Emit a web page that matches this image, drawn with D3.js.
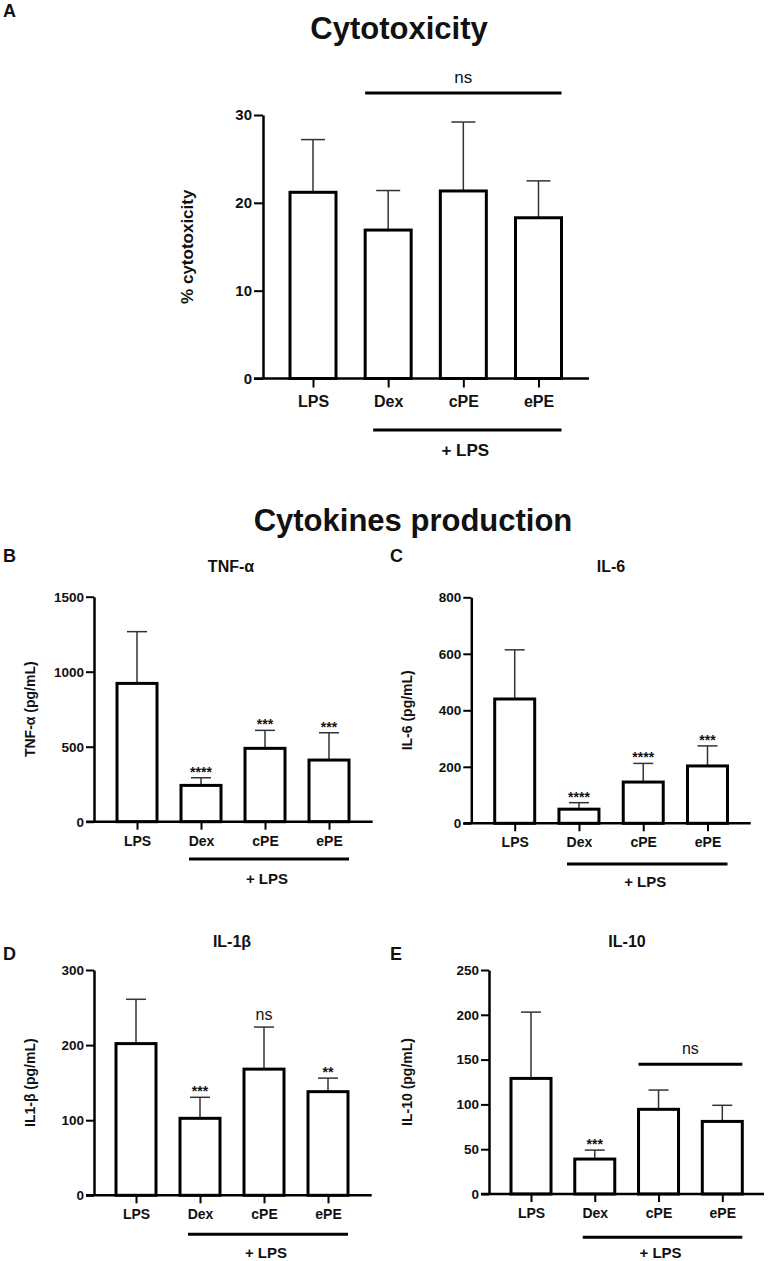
<!DOCTYPE html>
<html>
<head>
<meta charset="utf-8">
<script src="https://cdn.jsdelivr.net/npm/d3@7"></script>
<style>
  html, body { margin: 0; padding: 0; background: #fff; }
  svg { display: block; font-family: "Liberation Sans", Arial, sans-serif; }
</style>
</head>
<body>
<svg id="fig" width="768" height="1261"></svg>
<script>
// groups, same for every panel
const categories = ["LPS", "Dex", "cPE", "ePE"];

// A: cytotoxicity (%), mean and SD
const cytoMean = [21.2, 16.9, 21.35, 18.3];
const cytoSd = [6.0, 4.5, 7.85, 4.2];
const cytoTicks = [0, 10, 20, 30];

// B: TNF-a (pg/mL)
const tnfMean = [922, 242, 489, 411];
const tnfSd = [345, 51, 120, 182];
const tnfSig = ["", "****", "***", "***"];
const tnfTicks = [0, 500, 1000, 1500];

// C: IL-6 (pg/mL)
const il6Mean = [440, 50, 146, 203];
const il6Sd = [174, 23, 66, 71];
const il6Sig = ["", "****", "****", "***"];
const il6Ticks = [0, 200, 400, 600, 800];

// D: IL-1b (pg/mL)
const il1Mean = [202, 102.5, 168, 138];
const il1Sd = [59, 28, 56, 18];
const il1Sig = ["", "***", "ns", "**"];
const il1Ticks = [0, 100, 200, 300];

// E: IL-10 (pg/mL)
const il10Mean = [129, 39, 94.5, 81];
const il10Sd = [74, 10, 21.5, 18];
const il10Sig = ["", "***", "", ""];
const il10Ticks = [0, 50, 100, 150, 200, 250];

const svg = d3.select("#fig");
const FONT = "'Liberation Sans', Arial, sans-serif";

function drawPanel(p) {
  const g = svg.append("g");
  const yMax = p.ticks[p.ticks.length - 1];
  const y = d3.scaleLinear().domain([0, yMax]).range([p.y0, p.yTop]);
  const x = d3.scalePoint().domain(categories).range([p.xFirst, p.xLast]);
  const rows = categories.map((c, i) => ({
    cat: c, mean: p.means[i], sd: p.sd[i], sig: p.sig ? p.sig[i] : ""
  }));

  // error bars (upper only)
  const eb = g.selectAll("g.err").data(rows).join("g").attr("class", "err")
    .attr("stroke", "#333").attr("stroke-width", 1.5);
  eb.append("line")
    .attr("x1", (d) => x(d.cat)).attr("x2", (d) => x(d.cat))
    .attr("y1", (d) => y(d.mean)).attr("y2", (d) => y(d.mean + d.sd));
  eb.append("line")
    .attr("x1", (d) => x(d.cat) - p.capW / 2).attr("x2", (d) => x(d.cat) + p.capW / 2)
    .attr("y1", (d) => y(d.mean + d.sd)).attr("y2", (d) => y(d.mean + d.sd));

  // bars
  g.selectAll("rect.bar").data(rows).join("rect").attr("class", "bar")
    .attr("x", (d) => x(d.cat) - p.barW / 2)
    .attr("y", (d) => y(d.mean))
    .attr("width", p.barW)
    .attr("height", (d) => p.y0 - y(d.mean))
    .attr("fill", "#fff").attr("stroke", "#000").attr("stroke-width", 3);

  // significance marks
  g.selectAll("text.sig").data(rows.filter((d) => d.sig)).join("text").attr("class", "sig")
    .attr("x", (d) => x(d.cat))
    .attr("y", (d) => y(d.mean + d.sd) - (d.sig === "ns" ? 7 : 1))
    .attr("text-anchor", "middle")
    .attr("font-size", (d) => (d.sig === "ns" ? 16 : 14))
    .attr("font-weight", (d) => (d.sig === "ns" ? "normal" : "bold"))
    .attr("fill", "#111")
    .text((d) => d.sig);

  // y axis
  const ya = g.append("g")
    .attr("transform", `translate(${p.axisX},0)`)
    .call(d3.axisLeft(y).tickValues(p.ticks).tickFormat(d3.format("d"))
      .tickSize(p.tickLen).tickSizeOuter(0).tickPadding(2));
  ya.select(".domain").attr("stroke", "#000").attr("stroke-width", 2.5);
  ya.selectAll(".tick line").attr("stroke", "#000").attr("stroke-width", 2);
  ya.selectAll(".tick text")
    .attr("font-family", FONT).attr("font-weight", "bold")
    .attr("font-size", p.tickFont).attr("fill", "#111");

  // x axis
  g.append("line")
    .attr("x1", p.axisX - p.tickLen).attr("x2", p.axisEnd)
    .attr("y1", p.y0).attr("y2", p.y0)
    .attr("stroke", "#000").attr("stroke-width", 2.5);
  const xa = g.append("g")
    .attr("transform", `translate(0,${p.y0})`)
    .call(d3.axisBottom(x).tickSize(p.tickLen).tickSizeOuter(0).tickPadding(p.catPad));
  xa.select(".domain").remove();
  xa.selectAll(".tick line").attr("stroke", "#000").attr("stroke-width", 2);
  xa.selectAll(".tick text")
    .attr("font-family", FONT).attr("font-weight", "bold")
    .attr("font-size", p.catFont).attr("fill", "#111");

  // "+ LPS" bracket under Dex..ePE
  const lx1 = x("Dex") - p.barW / 2 + p.lpsInset;
  const lx2 = x("ePE") + p.barW / 2;
  g.append("line")
    .attr("x1", lx1).attr("x2", lx2).attr("y1", p.lpsY).attr("y2", p.lpsY)
    .attr("stroke", "#000").attr("stroke-width", 3);
  g.append("text")
    .attr("x", (lx1 + lx2) / 2 - 2).attr("y", p.lpsTextY)
    .attr("text-anchor", "middle").attr("font-weight", "bold")
    .attr("font-size", p.lpsFont).attr("fill", "#111")
    .text("+ LPS");

  // group "ns" bracket
  if (p.nsFrom) {
    const nx1 = x(p.nsFrom) - p.barW / 2;
    const nx2 = x(p.nsTo) + p.barW / 2;
    g.append("line")
      .attr("x1", nx1).attr("x2", nx2).attr("y1", p.nsY).attr("y2", p.nsY)
      .attr("stroke", "#000").attr("stroke-width", 3);
    g.append("text")
      .attr("x", (nx1 + nx2) / 2).attr("y", p.nsY - 10)
      .attr("text-anchor", "middle").attr("font-size", p.nsFont).attr("fill", "#111")
      .text("ns");
  }

  // y label
  g.append("text")
    .attr("transform", `translate(${p.yLabelX},${(p.y0 + p.yTop) / 2}) rotate(-90)`)
    .attr("text-anchor", "middle").attr("dy", "0.35em")
    .attr("font-weight", "bold").attr("font-size", p.yLabelFont).attr("fill", "#111")
    .text(p.yLabel);

  // panel title
  g.append("text")
    .attr("x", p.titleX).attr("y", p.titleY)
    .attr("text-anchor", "middle").attr("font-weight", "bold")
    .attr("font-size", p.titleFont).attr("fill", "#111")
    .text(p.title);

  // panel letter
  g.append("text")
    .attr("x", p.letterX).attr("y", p.letterY)
    .attr("font-weight", "bold").attr("font-size", 18).attr("fill", "#111")
    .text(p.letter);
}

const small = {
  barW: 40, capW: 20, tickLen: 8, tickFont: 13.5, catFont: 14, catPad: 6,
  lpsInset: 8, lpsFont: 15, yLabelFont: 14, titleFont: 16
};

drawPanel({
  letter: "A", letterX: 3, letterY: 17,
  title: "Cytotoxicity", titleX: 399, titleY: 39, titleFont: 31,
  means: cytoMean, sd: cytoSd, sig: null, ticks: cytoTicks,
  yLabel: "% cytotoxicity", yLabelX: 187, yLabelFont: 17,
  axisX: 263, axisEnd: 589, y0: 378.5, yTop: 115,
  xFirst: 313, xLast: 538.5, barW: 46, capW: 24,
  tickLen: 9, tickFont: 15, catFont: 16, catPad: 8,
  lpsY: 430, lpsTextY: 456, lpsFont: 17, lpsInset: 8,
  nsFrom: "Dex", nsTo: "ePE", nsY: 93, nsFont: 17
});

svg.append("text")
  .attr("x", 413).attr("y", 531)
  .attr("text-anchor", "middle").attr("font-weight", "bold")
  .attr("font-size", 31).attr("fill", "#111")
  .text("Cytokines production");

drawPanel(Object.assign({}, small, {
  letter: "B", letterX: 3, letterY: 562,
  title: "TNF-α", titleX: 231, titleY: 572,
  means: tnfMean, sd: tnfSd, sig: tnfSig, ticks: tnfTicks,
  yLabel: "TNF-α (pg/mL)", yLabelX: 30,
  axisX: 94, axisEnd: 372.7, y0: 821.7, yTop: 596.7,
  xFirst: 137, xLast: 329,
  lpsY: 859, lpsTextY: 884
}));

drawPanel(Object.assign({}, small, {
  letter: "C", letterX: 390, letterY: 562,
  title: "IL-6", titleX: 611, titleY: 572,
  means: il6Mean, sd: il6Sd, sig: il6Sig, ticks: il6Ticks,
  yLabel: "IL-6 (pg/mL)", yLabelX: 407,
  axisX: 471.3, axisEnd: 750.7, y0: 823.3, yTop: 597.3,
  xFirst: 514.7, xLast: 707.5,
  lpsY: 864, lpsTextY: 887
}));

drawPanel(Object.assign({}, small, {
  letter: "D", letterX: 3, letterY: 960,
  title: "IL-1β", titleX: 232, titleY: 947,
  means: il1Mean, sd: il1Sd, sig: il1Sig, ticks: il1Ticks,
  yLabel: "IL1-β (pg/mL)", yLabelX: 30,
  axisX: 94, axisEnd: 371.7, y0: 1195.3, yTop: 970,
  xFirst: 136, xLast: 328,
  lpsY: 1234.3, lpsTextY: 1258
}));

drawPanel(Object.assign({}, small, {
  letter: "E", letterX: 390, letterY: 960,
  title: "IL-10", titleX: 627, titleY: 947,
  means: il10Mean, sd: il10Sd, sig: il10Sig, ticks: il10Ticks,
  yLabel: "IL-10 (pg/mL)", yLabelX: 407,
  axisX: 489, axisEnd: 764, y0: 1194, yTop: 970,
  xFirst: 531, xLast: 722.3,
  lpsY: 1237.3, lpsTextY: 1258,
  nsFrom: "cPE", nsTo: "ePE", nsY: 1064.3, nsFont: 16
}));
</script>
</body>
</html>
